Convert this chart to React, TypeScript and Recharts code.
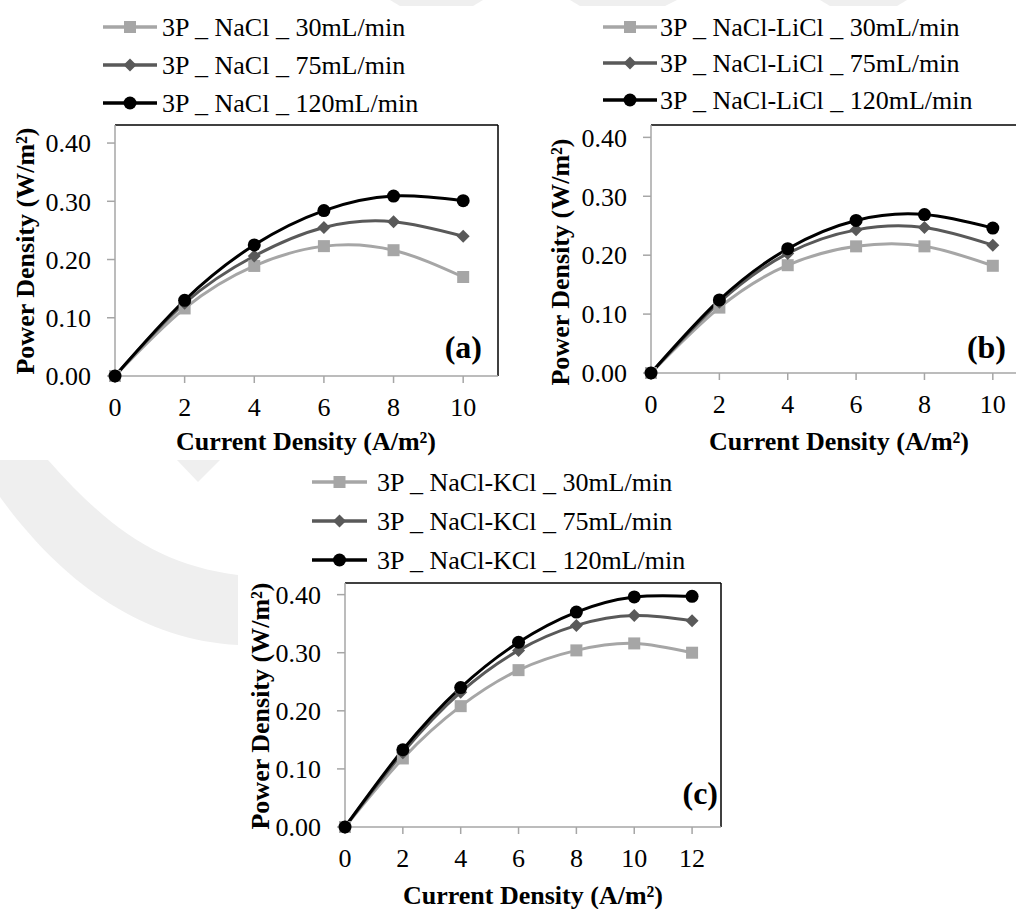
import React from "react";
import { LineChart, Line, XAxis, YAxis, ReferenceLine } from "recharts";

// panel (a): NaCl
const currentA = [0, 2, 4, 6, 8, 10];
const naCl30 = [0, 0.116, 0.189, 0.223, 0.216, 0.17];
const naCl75 = [0, 0.125, 0.206, 0.255, 0.265, 0.24];
const naCl120 = [0, 0.13, 0.225, 0.284, 0.309, 0.301];

// panel (b): NaCl-LiCl
const currentB = [0, 2, 4, 6, 8, 10];
const liCl30 = [0, 0.111, 0.183, 0.215, 0.215, 0.182];
const liCl75 = [0, 0.12, 0.203, 0.243, 0.247, 0.217];
const liCl120 = [0, 0.124, 0.211, 0.259, 0.269, 0.246];

// panel (c): NaCl-KCl
const currentC = [0, 2, 4, 6, 8, 10, 12];
const kCl30 = [0, 0.118, 0.208, 0.27, 0.304, 0.316, 0.3];
const kCl75 = [0, 0.128, 0.232, 0.304, 0.347, 0.364, 0.355];
const kCl120 = [0, 0.133, 0.24, 0.318, 0.37, 0.396, 0.397];

const yTicks = [0, 0.1, 0.2, 0.3, 0.4];
const xTicksAB = [0, 2, 4, 6, 8, 10];
const xTicksC = [0, 2, 4, 6, 8, 10, 12];
const flowRates = ["30mL/min", "75mL/min", "120mL/min"];

const FONT = "'Liberation Serif', 'Times New Roman', serif";
const AXIS_GRAY = "#a6a6a6";
const MARK = "#efefef";

const seriesStyles = [
  { key: "s30", color: "#a6a6a6", shape: "square" },
  { key: "s75", color: "#595959", shape: "diamond" },
  { key: "s120", color: "#000000", shape: "circle" },
];

const buildRows = (xs: number[], a: number[], b: number[], c: number[]) =>
  xs.map((x, i) => ({ x, s30: a[i], s75: b[i], s120: c[i] }));

const rowsA = buildRows(currentA, naCl30, naCl75, naCl120);
const rowsB = buildRows(currentB, liCl30, liCl75, liCl120);
const rowsC = buildRows(currentC, kCl30, kCl75, kCl120);

const Marker = ({ shape, color, cx, cy }: any) => {
  if (shape === "square") {
    return <rect x={cx - 6} y={cy - 6} width={12} height={12} fill={color} />;
  }
  if (shape === "diamond") {
    return (
      <polygon
        points={`${cx},${cy - 6.5} ${cx + 6.5},${cy} ${cx},${cy + 6.5} ${cx - 6.5},${cy}`}
        fill={color}
      />
    );
  }
  return <circle cx={cx} cy={cy} r={6.5} fill={color} />;
};

const makeDot = (shape: string, color: string) => (props: any) => {
  const { cx, cy, index } = props;
  if (cx == null || cy == null) return <g key={`d-${index}`} />;
  return (
    <g key={`d-${shape}-${index}`}>
      <Marker shape={shape} color={color} cx={cx} cy={cy} />
    </g>
  );
};

type PanelProps = {
  rows: any[];
  left: number;
  top: number;
  width: number;
  height: number;
  marginTop: number;
  marginRight: number;
  xAxisHeight: number;
  xMax: number;
  yMax: number;
  xTicks: number[];
};

const Panel = (p: PanelProps) => (
  <div style={{ position: "absolute", left: p.left, top: p.top }}>
    <LineChart
      width={p.width}
      height={p.height}
      data={p.rows}
      margin={{ top: p.marginTop, right: p.marginRight, left: 0, bottom: 0 }}
    >
      <XAxis
        dataKey="x"
        type="number"
        domain={[0, p.xMax]}
        ticks={p.xTicks}
        height={p.xAxisHeight}
        axisLine={{ stroke: AXIS_GRAY, strokeWidth: 1.5 }}
        tickLine={{ stroke: AXIS_GRAY, strokeWidth: 1.5 }}
        tickSize={7}
        tickMargin={15}
        tick={{ fill: "#000", fontSize: 26, fontFamily: FONT }}
      />
      <YAxis
        type="number"
        domain={[0, p.yMax]}
        ticks={yTicks}
        width={115}
        axisLine={{ stroke: AXIS_GRAY, strokeWidth: 1.5 }}
        tickLine={{ stroke: AXIS_GRAY, strokeWidth: 1.5 }}
        tickSize={8}
        tickMargin={16}
        tickFormatter={(v: number) => v.toFixed(2)}
        tick={{ fill: "#000", fontSize: 26, fontFamily: FONT }}
      />
      <ReferenceLine y={p.yMax} stroke="#000" strokeWidth={1.5} />
      <ReferenceLine x={p.xMax} stroke="#000" strokeWidth={1.5} />
      {seriesStyles.map((s) => (
        <Line
          key={s.key}
          dataKey={s.key}
          type="natural"
          stroke={s.color}
          strokeWidth={3}
          dot={makeDot(s.shape, s.color)}
          activeDot={false}
          isAnimationActive={false}
        />
      ))}
    </LineChart>
  </div>
);

const LegendBlock = ({
  prefix,
  lineX,
  textX,
  rowsY,
}: {
  prefix: string;
  lineX: [number, number];
  textX: number;
  rowsY: number[];
}) => (
  <g>
    {seriesStyles.map((s, i) => {
      const cy = rowsY[i];
      const cx = (lineX[0] + lineX[1]) / 2;
      return (
        <g key={s.key}>
          <line x1={lineX[0]} x2={lineX[1]} y1={cy} y2={cy} stroke={s.color} strokeWidth={3.5} />
          <Marker shape={s.shape} color={s.color} cx={cx} cy={cy} />
          <text x={textX} y={cy} dominantBaseline="central" fontSize={26} fontFamily={FONT} fill="#000">
            {`${prefix} _ ${flowRates[i]}`}
          </text>
        </g>
      );
    })}
  </g>
);

const titleStyle = { fontSize: 26, fontWeight: 700, fontFamily: FONT, fill: "#000" } as const;

export default function App() {
  return (
    <div
      style={{
        position: "absolute",
        left: 0,
        top: 0,
        width: 1016,
        height: 909,
        overflow: "hidden",
        background: "#fff",
        fontFamily: FONT,
      }}
    >
      {/* background watermark */}
      <svg width={1016} height={909} style={{ position: "absolute", left: 0, top: 0 }}>
        <path d="M0,460 L48,460 C110,530 160,565 238,575 L238,645 C140,640 60,580 0,497 Z" fill={MARK} />
        <path d="M177,460 L220,460 L198,482 Z" fill={MARK} />
        <path d="M390,0 L483,0 L473,6 L400,6 Z" fill={MARK} />
        <path d="M570,0 L677,0 L665,6 L580,6 Z" fill={MARK} />
        <path d="M820,0 L907,0 L897,6 L830,6 Z" fill={MARK} />
      </svg>

      <Panel rows={rowsA} left={0} top={110} width={520} height={350} marginTop={15} marginRight={22}
        xAxisHeight={84} xMax={11} yMax={0.431} xTicks={xTicksAB} />
      <Panel rows={rowsB} left={536} top={110} width={500} height={350} marginTop={15} marginRight={9}
        xAxisHeight={87} xMax={11} yMax={0.421} xTicks={xTicksAB} />
      <Panel rows={rowsC} left={230} top={568} width={500} height={335} marginTop={15} marginRight={9}
        xAxisHeight={76} xMax={13} yMax={0.42} xTicks={xTicksC} />

      <svg width={1016} height={909} style={{ position: "absolute", left: 0, top: 0, pointerEvents: "none" }}>
        <LegendBlock prefix="3P _ NaCl" lineX={[103, 157]} textX={162} rowsY={[27, 65, 103]} />
        <LegendBlock prefix="3P _ NaCl-LiCl" lineX={[603, 657]} textX={660} rowsY={[27, 63, 100]} />
        <LegendBlock prefix="3P _ NaCl-KCl" lineX={[312, 367]} textX={377} rowsY={[482, 521, 560]} />

        <text x={306} y={441} textAnchor="middle" dominantBaseline="central" {...titleStyle}>
          Current Density (A/m²)
        </text>
        <text x={839} y={441} textAnchor="middle" dominantBaseline="central" {...titleStyle}>
          Current Density (A/m²)
        </text>
        <text x={533} y={895} textAnchor="middle" dominantBaseline="central" {...titleStyle}>
          Current Density (A/m²)
        </text>

        <text transform="translate(25,251) rotate(-90)" textAnchor="middle" dominantBaseline="central" {...titleStyle}>
          Power Density (W/m²)
        </text>
        <text transform="translate(560,262) rotate(-90)" textAnchor="middle" dominantBaseline="central" {...titleStyle}>
          Power Density (W/m²)
        </text>
        <text transform="translate(260,706) rotate(-90)" textAnchor="middle" dominantBaseline="central" {...titleStyle}>
          Power Density (W/m²)
        </text>

        <text x={482} y={347} textAnchor="end" dominantBaseline="central" fontSize={32} fontWeight={700} fontFamily={FONT}>
          (a)
        </text>
        <text x={1006} y={347} textAnchor="end" dominantBaseline="central" fontSize={32} fontWeight={700} fontFamily={FONT}>
          (b)
        </text>
        <text x={718} y={793} textAnchor="end" dominantBaseline="central" fontSize={32} fontWeight={700} fontFamily={FONT}>
          (c)
        </text>
      </svg>
    </div>
  );
}
